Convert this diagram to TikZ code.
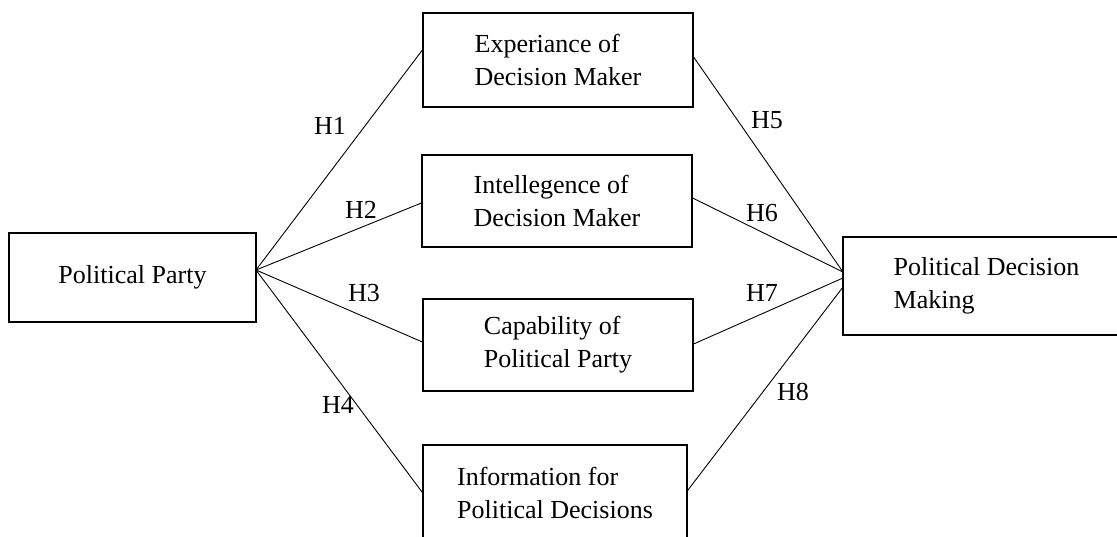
\documentclass[tikz,border=0pt]{standalone}
\usepackage{fontspec}
\setmainfont{Liberation Serif}
\begin{document}
\begin{tikzpicture}[x=1pt,y=-1pt,
  box/.style={draw, line width=1.2pt, rectangle, align=left, inner sep=0pt,
    font=\fontsize{26}{33}\selectfont},
  conn/.style={line width=0.9pt},
  hlab/.style={inner sep=0pt, font=\fontsize{26}{33}\selectfont}]
\clip (0,0) rectangle (1117,536);
\fill[white] (0,0) rectangle (1117,536);
\node[box, minimum width=247pt, minimum height=89pt] (pp) at (132.5,277.5) {Political Party};
\node[box, minimum width=270pt, minimum height=94pt] (exp) at (558,60) {Experiance of\\Decision Maker};
\node[box, minimum width=270pt, minimum height=92pt] (int) at (557,201) {Intellegence of\\Decision Maker};
\node[box, minimum width=270pt, minimum height=92pt] (cap) at (558,345) {Capability of\\Political Party};
\node[box, minimum width=264pt, minimum height=95pt] (inf) at (555,492.5) {Information for\\Political Decisions};
\node[box, minimum width=287pt, minimum height=98pt] (pdm) at (986.5,286) {Political Decision\\Making};
\coordinate (L) at (256,270);
\coordinate (R1) at (843,272);
\coordinate (R2) at (843,278);
\coordinate (R3) at (843,287);
\draw[conn] (L) -- ([yshift=10pt]exp.west);
\draw[conn] (L) -- ([yshift=-2pt]int.west);
\draw[conn] (L) -- ([yshift=3pt]cap.west);
\draw[conn] (L) -- (inf.west);
\draw[conn] ([yshift=3pt]exp.east) -- (R1);
\draw[conn] ([yshift=3pt]int.east) -- (R1);
\draw[conn] ([yshift=1pt]cap.east) -- (R2);
\draw[conn] ([yshift=2pt]inf.east) -- (R3);
\node[hlab] (h1) at (330,126) {H1};
\node[hlab] (h2) at (361,210) {H2};
\node[hlab] (h3) at (364,293) {H3};
\node[hlab] (h4) at (338,405) {H4};
\node[hlab] (h5) at (767,120) {H5};
\node[hlab] (h6) at (762,213) {H6};
\node[hlab] (h7) at (762,293) {H7};
\node[hlab] (h8) at (793,392) {H8};
\end{tikzpicture}
\end{document}
